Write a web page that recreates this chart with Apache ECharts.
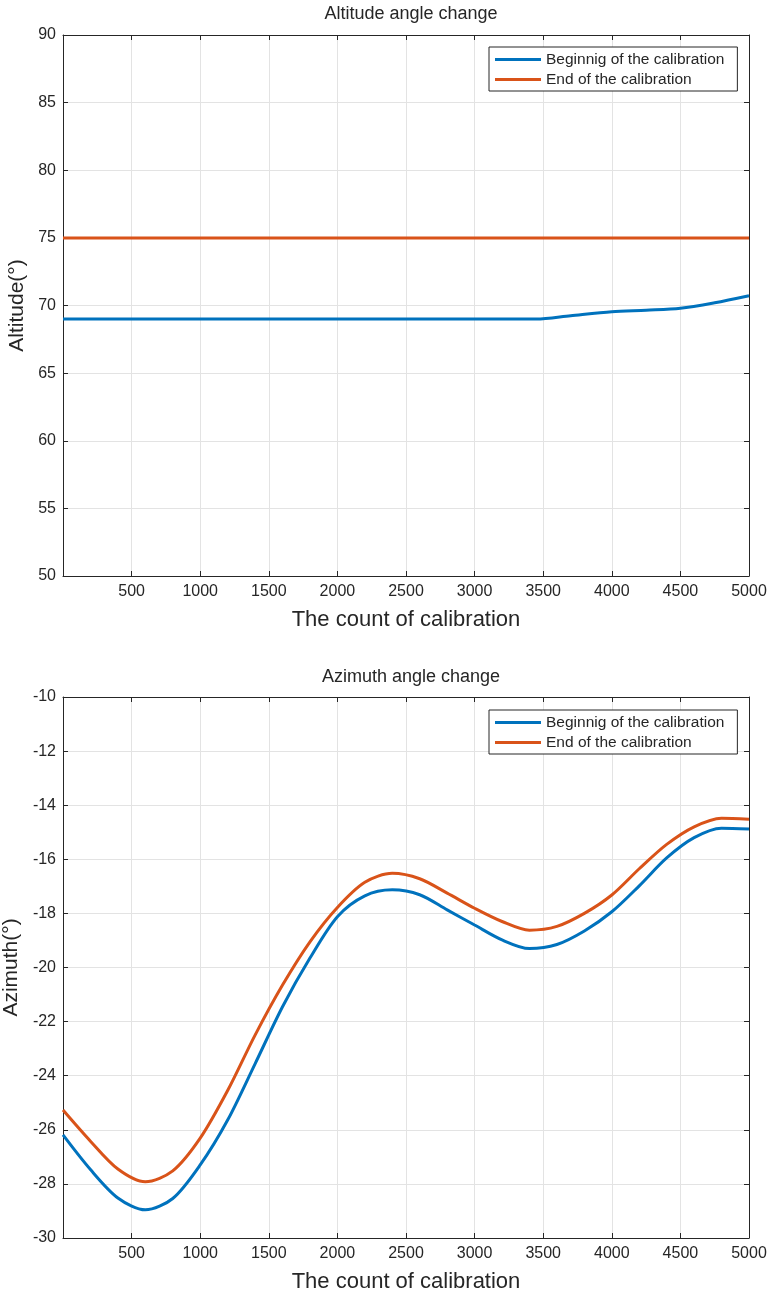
<!DOCTYPE html>
<html>
<head>
<meta charset="utf-8">
<script src="https://cdn.jsdelivr.net/npm/echarts@6/dist/echarts.min.js"></script>
<style>
html,body{margin:0;padding:0;background:#fff;}
#chart{width:773px;height:1296px;}
</style>
</head>
<body>
<div id="chart"></div>
<script>
// ---- Data ----
const altCount = [0, 500, 1000, 1500, 2000, 2500, 3000, 3450, 3700, 4000, 4250, 4500, 4750, 5000];
const altBegin = [69.0, 69.0, 69.0, 69.0, 69.0, 69.0, 69.0, 69.0, 69.25, 69.54, 69.65, 69.79, 70.2, 70.72];
const altEnd   = [75.0, 75.0, 75.0, 75.0, 75.0, 75.0, 75.0, 75.0, 75.0, 75.0, 75.0, 75.0, 75.0, 75.0];

const azCount = [0, 200, 400, 600, 800, 1000, 1200, 1400, 1600, 1800, 2000, 2200, 2400, 2600, 2800, 3000, 3200, 3400, 3600, 3800, 4000, 4200, 4400, 4600, 4800, 5000];
const azBegin = [-26.19, -27.47, -28.52, -28.96, -28.54, -27.30, -25.64, -23.56, -21.45, -19.65, -18.12, -17.35, -17.13, -17.31, -17.87, -18.43, -18.98, -19.30, -19.15, -18.65, -17.94, -16.98, -15.95, -15.20, -14.85, -14.88];
const azEnd   = [-25.27, -26.42, -27.45, -27.92, -27.52, -26.31, -24.55, -22.50, -20.65, -19.05, -17.78, -16.85, -16.52, -16.72, -17.25, -17.81, -18.30, -18.62, -18.48, -18.00, -17.32, -16.35, -15.45, -14.80, -14.48, -14.52];

const xTicks = [500, 1000, 1500, 2000, 2500, 3000, 3500, 4000, 4500, 5000];
const seriesNames = ['Beginnig of the calibration', 'End of the calibration'];
const titles = ['Altitude angle change', 'Azimuth angle change'];
const yNames = ['Altitude(°)', 'Azimuth(°)'];
const xName = 'The count of calibration';

// ---- Styling ----
const FONT = '"Liberation Sans", Arial, Helvetica, sans-serif';
const TXT = '#262626';
const BLUE = '#0072BD';
const ORANGE = '#D95319';
const GRIDC = '#e3e3e3';

const pairs = (xs, ys) => xs.map((x, i) => [x, ys[i]]);

function mainX(gi) {
  return {
    type: 'value', gridIndex: gi, min: 0, max: 5000, interval: 500,
    name: xName, nameLocation: 'middle', nameGap: 33,
    nameTextStyle: {fontFamily: FONT, fontSize: 22, color: TXT},
    axisLine: {show: true, onZero: false, lineStyle: {color: TXT, width: 1}},
    axisTick: {show: true, inside: true, length: 5, lineStyle: {color: TXT}},
    axisLabel: {fontFamily: FONT, fontSize: 16, color: TXT, margin: 8,
      formatter: v => (xTicks.indexOf(v) >= 0 ? String(v) : '')},
    splitLine: {show: true, lineStyle: {color: GRIDC, width: 1}}
  };
}
function topX(gi) {
  return {
    type: 'value', gridIndex: gi, position: 'top', min: 0, max: 5000, interval: 500,
    axisLine: {show: true, onZero: false, lineStyle: {color: TXT, width: 1}},
    axisTick: {show: true, inside: true, length: 5, lineStyle: {color: TXT}},
    axisLabel: {show: false}, splitLine: {show: false}
  };
}
function mainY(gi, min, max, interval, name, gap) {
  return {
    type: 'value', gridIndex: gi, min: min, max: max, interval: interval,
    name: name, nameLocation: 'middle', nameGap: gap,
    nameTextStyle: {fontFamily: FONT, fontSize: 21, color: TXT},
    axisLine: {show: true, onZero: false, lineStyle: {color: TXT, width: 1}},
    axisTick: {show: true, inside: true, length: 5, lineStyle: {color: TXT}},
    axisLabel: {fontFamily: FONT, fontSize: 16, color: TXT, margin: 7},
    splitLine: {show: true, lineStyle: {color: GRIDC, width: 1}}
  };
}
function rightY(gi, min, max, interval) {
  return {
    type: 'value', gridIndex: gi, position: 'right', min: min, max: max, interval: interval,
    axisLine: {show: true, onZero: false, lineStyle: {color: TXT, width: 1}},
    axisTick: {show: true, inside: true, length: 5, lineStyle: {color: TXT}},
    axisLabel: {show: false}, splitLine: {show: false}
  };
}
function legend(top) {
  return {
    data: seriesNames, orient: 'vertical', left: 489, top: top,
    icon: 'rect', itemWidth: 46, itemHeight: 3, itemGap: 3,
    padding: [4, 13, 3, 6],
    borderColor: TXT, borderWidth: 1, backgroundColor: '#fff',
    textStyle: {fontFamily: FONT, fontSize: 15.5, color: TXT, lineHeight: 17}
  };
}
function line(name, gi, xs, ys, color, smooth) {
  return {
    name: name, type: 'line', xAxisIndex: gi, yAxisIndex: gi,
    data: pairs(xs, ys), smooth: smooth, showSymbol: false, symbol: 'none',
    lineStyle: {color: color, width: 3}, itemStyle: {color: color},
    z: 3
  };
}

const chart = echarts.init(document.getElementById('chart'), null, {renderer: 'canvas'});
chart.setOption({
  animation: false,
  backgroundColor: '#fff',
  title: [
    {text: titles[0], left: 406, textAlign: 'center', top: 0,
     textStyle: {fontFamily: FONT, fontSize: 18, fontWeight: 'normal', color: TXT}},
    {text: titles[1], left: 406, textAlign: 'center', top: 663,
     textStyle: {fontFamily: FONT, fontSize: 18, fontWeight: 'normal', color: TXT}}
  ],
  legend: [legend(47), legend(710)],
  grid: [
    {left: 63, right: 24, top: 35, height: 541, outerBoundsMode: 'none', containLabel: false},
    {left: 63, right: 24, top: 697, height: 541, outerBoundsMode: 'none', containLabel: false}
  ],
  xAxis: [mainX(0), mainX(1), topX(0), topX(1)],
  yAxis: [
    mainY(0, 50, 90, 5, yNames[0], 25),
    mainY(1, -30, -10, 2, yNames[1], 35),
    rightY(0, 50, 90, 5),
    rightY(1, -30, -10, 2)
  ],
  series: [
    line(seriesNames[0], 0, altCount, altBegin, BLUE, 0.3),
    line(seriesNames[1], 0, altCount, altEnd, ORANGE, false),
    line(seriesNames[0], 1, azCount, azBegin, BLUE, 0.3),
    line(seriesNames[1], 1, azCount, azEnd, ORANGE, 0.3)
  ]
});
</script>
</body>
</html>
